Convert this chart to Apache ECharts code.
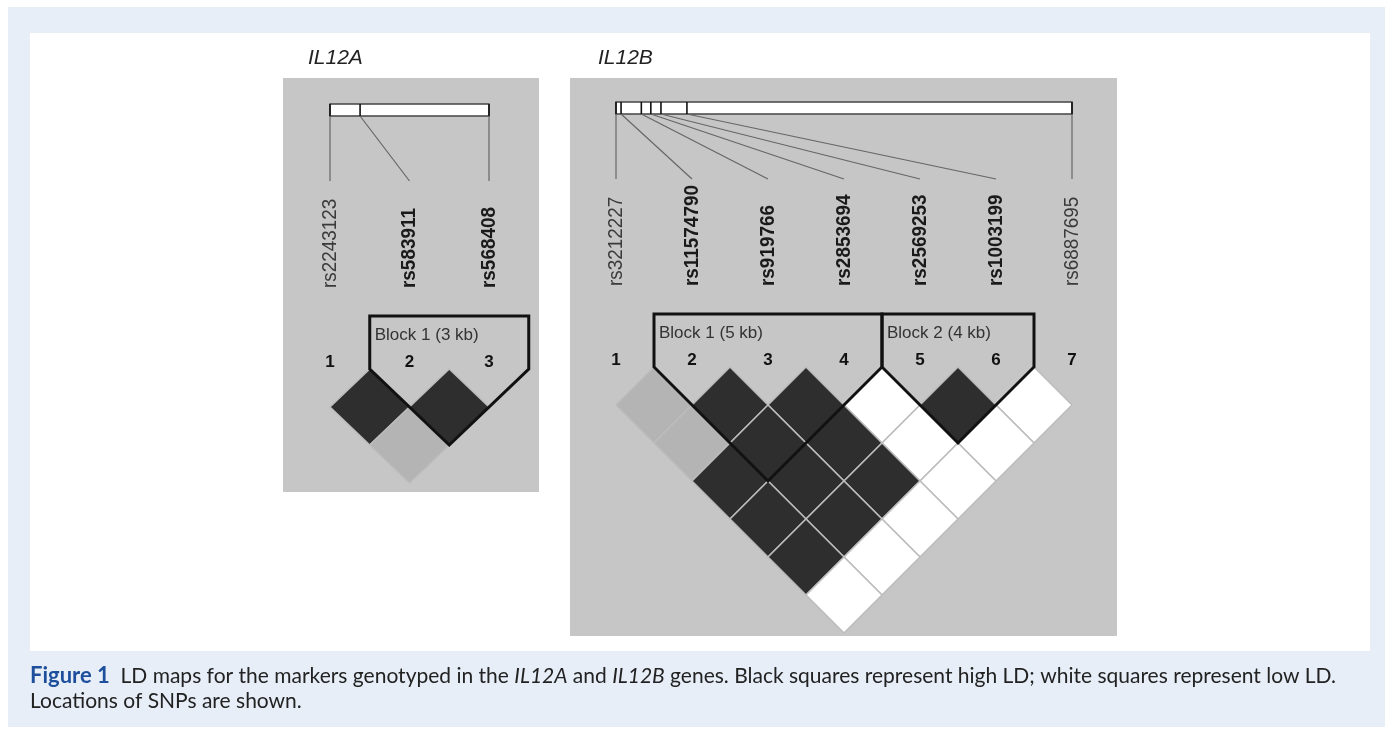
<!DOCTYPE html>
<html><head><meta charset="utf-8">
<script src="https://cdn.jsdelivr.net/npm/echarts@6/dist/echarts.min.js"></script>
<style>html,body{margin:0;padding:0;background:#fff}#c{width:1393px;height:737px}</style>
</head><body><div id="c"></div>
<script>
// ---------- data ----------
const geneNames = ['IL12A', 'IL12B'];
const snpsA = ['rs2243123', 'rs583911', 'rs568408'];
const taggedA = [0, 1, 1];
const posA = [0, 0.7, 3.7];                        // kb along gene
const snpsB = ['rs3212227', 'rs11574790', 'rs919766', 'rs2853694', 'rs2569253', 'rs1003199', 'rs6887695'];
const taggedB = [0, 1, 1, 1, 1, 1, 0];
const posB = [0, 0.8, 4.0, 5.5, 7.1, 11.2, 72.0];  // kb along gene
// LD cells: [marker i, marker j, level]  level 2 = high (black), 1 = intermediate (grey), 0 = low (white)
const ldA = [[1, 2, 2], [2, 3, 2], [1, 3, 1]];
const ldB = [
  [1, 2, 1], [2, 3, 2], [3, 4, 2], [4, 5, 0], [5, 6, 2], [6, 7, 0],
  [1, 3, 1], [2, 4, 2], [3, 5, 2], [4, 6, 0], [5, 7, 0],
  [1, 4, 2], [2, 5, 2], [3, 6, 2], [4, 7, 0],
  [1, 5, 2], [2, 6, 2], [3, 7, 0],
  [1, 6, 2], [2, 7, 0],
  [1, 7, 0]
];
const blockNamesA = ['Block 1 (3 kb)'];
const blockSpansA = [[2, 3]];
const blockNamesB = ['Block 1 (5 kb)', 'Block 2 (4 kb)'];
const blockSpansB = [[2, 4], [5, 6]];
const captionLine1 = ['Figure 1', 'LD maps for the markers genotyped in the ', 'IL12A', ' and ', 'IL12B', ' genes. Black squares represent high LD; white squares represent low LD.'];
const captionLine2 = 'Locations of SNPs are shown.';

// ---------- styles ----------
const cellColors = ['#ffffff', '#b4b4b4', '#2e2e2e'];
const panelGrey = '#c6c6c6';

function panelSeries(gi, snps, tagged, pos, ld, bNames, bSpans) {
  const n = snps.length;
  const base = { type: 'custom', coordinateSystem: 'cartesian2d', xAxisIndex: gi, yAxisIndex: gi, clip: false, silent: true };
  const cells = Object.assign({}, base, {
    data: ld.map(d => [(d[0] + d[1]) / 2, (d[1] - d[0]) / 2, d[2]]),
    renderItem(params, api) {
      const x = api.value(0), y = api.value(1), l = api.value(2);
      const c = api.coord([x, y]), r = api.coord([x + 0.5, y]), b = api.coord([x, y + 0.5]);
      const hw = r[0] - c[0], hh = b[1] - c[1];
      return { type: 'polygon', z2: 1,
        shape: { points: [[c[0], c[1] - hh], [c[0] + hw, c[1]], [c[0], c[1] + hh], [c[0] - hw, c[1]]] },
        style: { fill: cellColors[l], stroke: '#bcbcbc', lineWidth: 1.5 } };
    }
  });
  const blocks = Object.assign({}, base, {
    data: bSpans.map(s => [s[0], s[1]]),
    renderItem(params, api) {
      const f = api.value(0), t = api.value(1);
      const L = api.coord([f - 0.5, 0]), R = api.coord([t + 0.5, 0]);
      const A = api.coord([(f + t) / 2, (t - f + 1) / 2]);
      const top = L[1] - 53;
      return { type: 'group', children: [
        { type: 'polygon', z2: 5, shape: { points: [[L[0], top], [R[0], top], [R[0], R[1]], [A[0], A[1]], [L[0], L[1]]] },
          style: { fill: 'none', stroke: '#111', lineWidth: 3, lineJoin: 'miter' } },
        { type: 'text', z2: 6, x: L[0] + 5, y: L[1] - 34,
          style: { text: bNames[params.dataIndex], fill: '#333', font: '17px "Liberation Sans", Arial, sans-serif', verticalAlign: 'middle', align: 'left' } }
      ] };
    }
  });
  const nums = Object.assign({}, base, {
    data: snps.map((s, k) => [k + 1, 0]),
    renderItem(params, api) {
      const c = api.coord([api.value(0), 0]);
      return { type: 'text', x: c[0], y: c[1] - 7,
        style: { text: String(params.dataIndex + 1), fill: '#111', font: 'bold 17px "Liberation Sans", Arial, sans-serif', align: 'center', verticalAlign: 'middle' } };
    }
  });
  const span = pos[n - 1] - pos[0];
  const labels = Object.assign({}, base, {
    data: snps.map((s, k) => [k + 1, pos[k]]),
    renderItem(params, api) {
      const m = api.value(0), p = api.value(1);
      const c = api.coord([m, 0]);
      const y0 = c[1];
      const gx = api.coord([1 + (p - pos[0]) / span * (n - 1), 0])[0];
      const barTop = y0 - 265, barBot = y0 - 253;
      const ch = [];
      if (params.dataIndex === 0) {
        const s = api.coord([1, 0])[0], e = api.coord([n, 0])[0];
        ch.push({ type: 'rect', z2: 1, shape: { x: s, y: barTop, width: e - s, height: barBot - barTop },
          style: { fill: '#ffffff', stroke: '#444', lineWidth: 1.4 } });
      }
      ch.push({ type: 'line', z2: 3, shape: { x1: gx, y1: barTop, x2: gx, y2: barBot }, style: { stroke: '#111', lineWidth: 1.6 } });
      ch.push({ type: 'line', z2: 2, shape: { x1: gx, y1: barBot, x2: c[0], y2: y0 - 188 }, style: { stroke: '#666', lineWidth: 1.2 } });
      const bold = tagged[params.dataIndex];
      ch.push({ type: 'text', z2: 3, x: c[0], y: y0 - 81, rotation: Math.PI / 2, scaleX: 0.9,
        style: { text: snps[params.dataIndex], fill: bold ? '#1a1a1a' : '#3a3a3a',
          font: (bold ? 'bold ' : '') + '21px "Liberation Sans", Arial, sans-serif', align: 'left', verticalAlign: 'middle' } });
      return { type: 'group', children: ch };
    }
  });
  return [cells, blocks, nums, labels];
}

const chart = echarts.init(document.getElementById('c'), null, { renderer: 'canvas' });
chart.setOption({
  animation: false,
  backgroundColor: '#ffffff',
  grid: [
    { left: 250.5, top: 369, width: 318, height: 152, show: false },
    { left: 540, top: 367, width: 608, height: 304, show: false }
  ],
  xAxis: [
    { type: 'value', gridIndex: 0, min: 0, max: 4, show: false },
    { type: 'value', gridIndex: 1, min: 0, max: 8, show: false }
  ],
  yAxis: [
    { type: 'value', gridIndex: 0, min: 0, max: 2, inverse: true, show: false },
    { type: 'value', gridIndex: 1, min: 0, max: 4, inverse: true, show: false }
  ],
  graphic: [
    { type: 'rect', z: -10, shape: { x: 8, y: 7, width: 1377, height: 720 }, style: { fill: '#e7eef8' } },
    { type: 'rect', z: -9, shape: { x: 30, y: 33, width: 1340, height: 618 }, style: { fill: '#ffffff' } },
    { type: 'rect', z: -8, shape: { x: 283, y: 78, width: 256, height: 414 }, style: { fill: panelGrey } },
    { type: 'rect', z: -8, shape: { x: 570, y: 78, width: 547, height: 558 }, style: { fill: panelGrey } },
    { type: 'text', z: 5, x: 308, y: 58, style: { text: geneNames[0], fill: '#222', font: 'italic 21px "Liberation Sans", Arial, sans-serif', verticalAlign: 'middle' } },
    { type: 'text', z: 5, x: 598, y: 58, style: { text: geneNames[1], fill: '#222', font: 'italic 21px "Liberation Sans", Arial, sans-serif', verticalAlign: 'middle' } },
    { type: 'text', z: 5, x: 30, y: 676, style: {
      text: '{b|' + captionLine1[0] + '}  ' + captionLine1[1] + '{i|' + captionLine1[2] + '}' + captionLine1[3] + '{i|' + captionLine1[4] + '}' + captionLine1[5],
      fill: '#222', font: '21px Lato, "Open Sans", sans-serif', verticalAlign: 'middle',
      rich: { b: { fill: '#1d4f9c', font: 'bold 22px Lato, "Open Sans", sans-serif' }, i: { fill: '#222', font: 'italic 21px Lato, "Open Sans", sans-serif' } } } },
    { type: 'text', z: 5, x: 30, y: 701, style: { text: captionLine2, fill: '#222', font: '21px Lato, "Open Sans", sans-serif', verticalAlign: 'middle' } }
  ],
  series: [].concat(
    panelSeries(0, snpsA, taggedA, posA, ldA, blockNamesA, blockSpansA),
    panelSeries(1, snpsB, taggedB, posB, ldB, blockNamesB, blockSpansB)
  )
});
</script></body></html>
